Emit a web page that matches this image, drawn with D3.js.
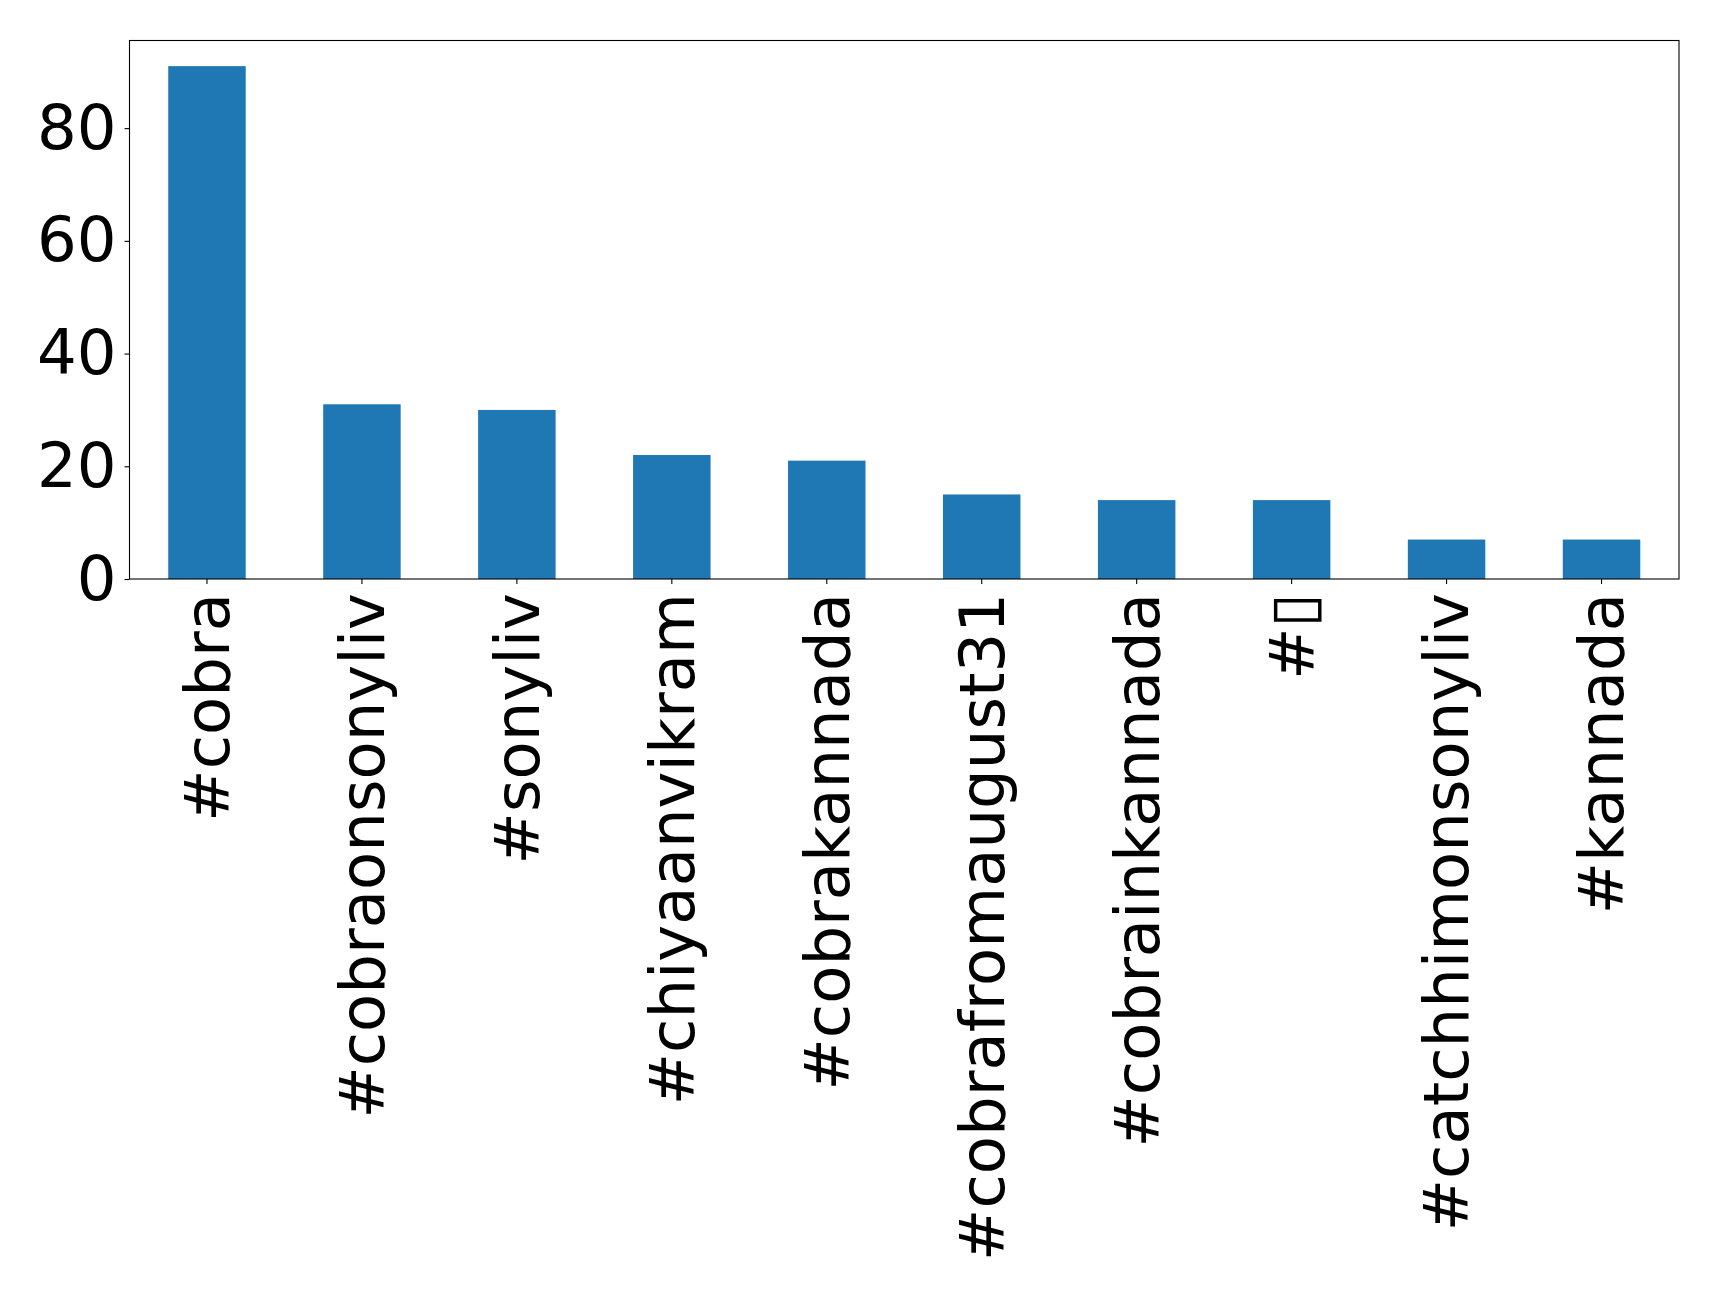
<!DOCTYPE html>
<html><head><meta charset="utf-8">
<script src="https://cdn.jsdelivr.net/npm/d3@7"></script>
<style>body{margin:0;background:#fff}svg{display:block}</style>
</head><body><svg id="c" width="1719" height="1296"></svg>
<script>
const categories = ["#cobra","#cobraonsonyliv","#sonyliv","#chiyaanvikram","#cobrakannada","#cobrafromaugust31","#cobrainkannada","#\u25AF","#catchhimonsonyliv","#kannada"];
const counts = [91,31,30,22,21,15,14,14,7,7];
const yTicks = [0,20,40,60,80];

const W=1719,H=1296;
const m={left:129.5,right:1679,top:40.5,bottom:579};
const svg=d3.select("#c");
const x=d3.scaleBand().domain(categories).range([m.left,m.right]).paddingInner(0.5).paddingOuter(0.25);
const y=d3.scaleLinear().domain([0,d3.max(counts)*1.05]).range([m.bottom,m.top]);
const fs=62.5, font="DejaVu Sans, sans-serif";

svg.append("g").selectAll("rect").data(counts).join("rect")
  .attr("x",(d,i)=>x(categories[i])).attr("width",x.bandwidth())
  .attr("y",d=>y(d)).attr("height",d=>y(0)-y(d)).attr("fill","#1f77b4");

const ya=svg.append("g").attr("transform",`translate(${m.left},0)`)
  .call(d3.axisLeft(y).tickValues(yTicks).tickSize(5).tickPadding(8).tickFormat(d3.format("d")));
ya.select(".domain").remove();
ya.selectAll("text").attr("font-size",fs).attr("font-family",font).attr("fill","#000");
ya.selectAll("line").attr("stroke","#000").attr("stroke-width",1.1);

const xa=svg.append("g").attr("transform",`translate(0,${m.bottom})`)
  .call(d3.axisBottom(x).tickSize(5).tickPadding(0));
xa.select(".domain").remove();
xa.selectAll("line").attr("stroke","#000").attr("stroke-width",1.1);
xa.selectAll("text").attr("font-size",fs).attr("font-family",font).attr("fill","#000")
  .attr("transform","translate(0,14) rotate(-90)").attr("text-anchor","end")
  .attr("x",0).attr("y",0).attr("dy","0.35em");

svg.append("rect").attr("x",m.left).attr("y",m.top).attr("width",m.right-m.left).attr("height",m.bottom-m.top)
  .attr("fill","none").attr("stroke","#000").attr("stroke-width",1.1);
</script></body></html>
